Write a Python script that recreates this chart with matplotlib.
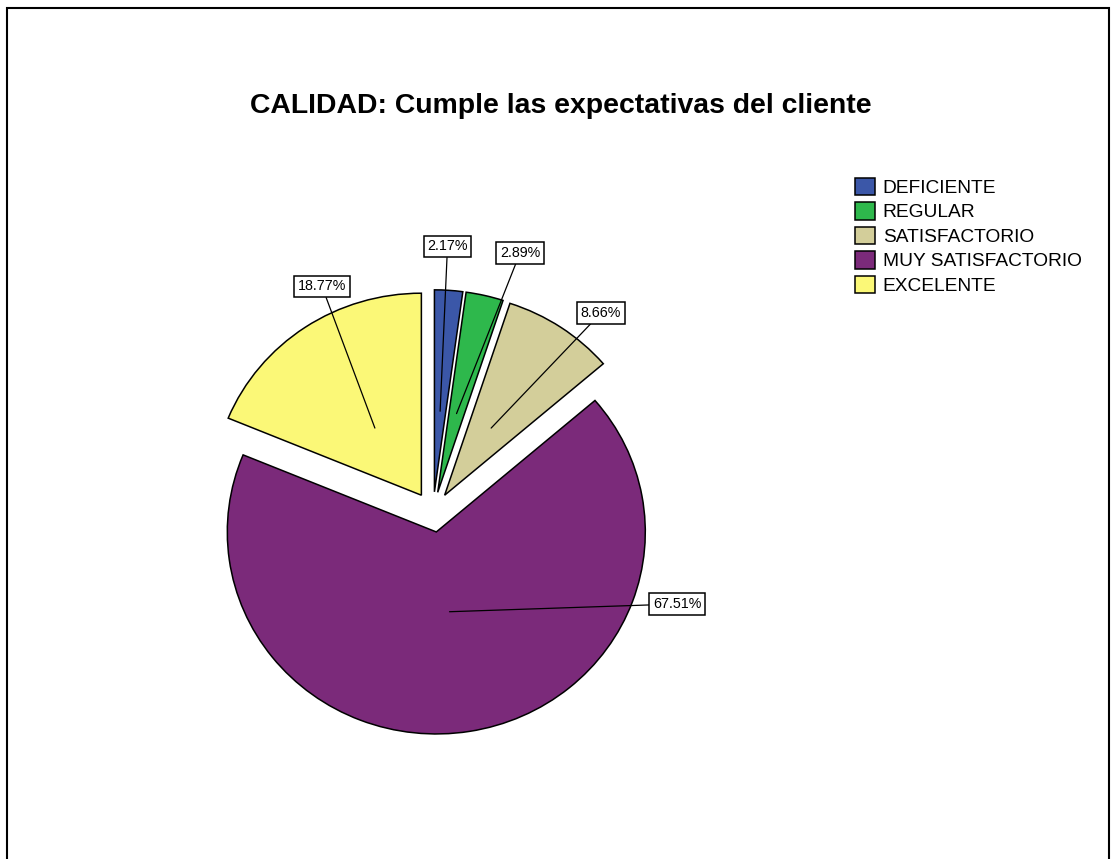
import matplotlib
matplotlib.use("Agg")
import matplotlib.pyplot as plt
from matplotlib.patches import Rectangle
import numpy as np

plt.rcParams['font.family'] = ['Liberation Sans', 'DejaVu Sans']

categories = ["DEFICIENTE", "REGULAR", "SATISFACTORIO", "MUY SATISFACTORIO", "EXCELENTE"]
percentages = [2.17, 2.89, 8.66, 67.51, 18.77]
colors = ["#3B57A8", "#2EB84C", "#D3CE9A", "#7B2A7A", "#FBF877"]
title = "CALIDAD: Cumple las expectativas del cliente"

# label box centres on the canvas (pixels from top-left), one per category
label_px = [(447.5, 246.5), (520, 253), (601, 313), (677, 604), (322, 286.5)]

W, H, DPI = 1114, 859, 100
fig = plt.figure(figsize=(W / DPI, H / DPI), dpi=DPI)
ax = fig.add_axes([0, 0, 1, 1])

# pie centre (px) and pixels per data unit horizontally / vertically
cx, cy = 433, 512
rx, ry = 209, 202

wedges, _ = ax.pie(percentages, colors=colors, startangle=90, counterclock=False,
                   explode=[0.1] * len(percentages),
                   wedgeprops=dict(edgecolor='black', linewidth=1.1))
ax.set_aspect('auto')
ax.set_xlim(-cx / rx, (W - cx) / rx)
ax.set_ylim(-(H - cy) / ry, cy / ry)
ax.axis('off')

def px_to_data(px, py):
    return ((px - cx) / rx, (cy - py) / ry)

for w, p, lp in zip(wedges, percentages, label_px):
    mid = np.deg2rad((w.theta1 + w.theta2) / 2)
    c = w.center
    inner = (c[0] + 0.4 * np.cos(mid), c[1] + 0.4 * np.sin(mid))
    ax.annotate(f"{p:.2f}%", xy=inner, xytext=px_to_data(*lp),
                ha='center', va='center', fontsize=10.3,
                bbox=dict(boxstyle='square,pad=0.25', fc='white', ec='black', lw=1.1),
                arrowprops=dict(arrowstyle='-', color='black', lw=0.9,
                                shrinkA=0, shrinkB=0))

fig.text(561 / W, 1 - 106 / H, title, fontsize=20.4, fontweight='bold',
         ha='center', va='center')

ax.legend(wedges, categories, loc='upper left',
          bbox_to_anchor=(855 / W, 1 - 177.5 / H), bbox_transform=fig.transFigure,
          frameon=False, fontsize=13.8, handlelength=1.05, handleheight=1.05,
          handletextpad=0.4, labelspacing=0.265, borderpad=0, borderaxespad=0)

# outer frame, open at the bottom edge of the canvas
fig.add_artist(Rectangle((7 / W, -0.05), (1109 - 7) / W, 1 - 8 / H + 0.05,
                         transform=fig.transFigure, fill=False,
                         ec='black', lw=1.5))

fig.savefig('out.png', dpi=DPI)
